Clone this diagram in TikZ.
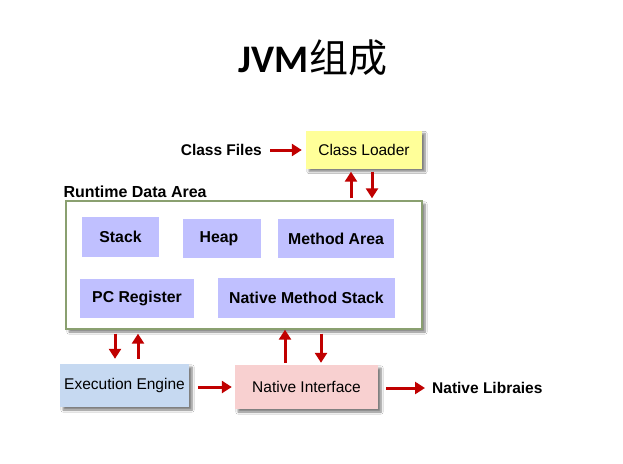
\documentclass[tikz,border=0pt]{standalone}
\usepackage{fontspec}
\setmainfont{Liberation Sans}
\newfontfamily\titlefont{Carlito}
\newfontfamily\cjk{Noto Sans CJK SC}
\usetikzlibrary{arrows.meta,shadows.blur}
\definecolor{loaderyellow}{HTML}{FFFF99}
\definecolor{arealilac}{HTML}{C0C0FF}
\definecolor{engineblue}{HTML}{C6D9F1}
\definecolor{interfacepink}{HTML}{F8D0D0}
\definecolor{areagreen}{HTML}{8AA070}
\definecolor{flowred}{HTML}{C00000}
\begin{document}
\begin{tikzpicture}[x=1pt, y=-1pt,
	  shadowed/.style={blur shadow={shadow xshift=3pt, shadow yshift=-3pt, shadow blur steps=6, shadow opacity=50}},
	  part/.style={fill=arealilac, inner sep=0pt, font=\fontsize{15.8}{18}\selectfont\bfseries},
	  unit/.style={shadowed, inner sep=0pt, font=\fontsize{15.5}{18}\selectfont},
	  plain/.style={inner sep=0pt, font=\fontsize{15.5}{18}\selectfont\bfseries},
	  flow/.style={draw=flowred, line width=3pt, -{Triangle[length=10pt, width=12pt]}}]
	  \useasboundingbox [fill=white] (0,0) rectangle (623,463);

	  \node (title) at (313,58) {\titlefont\fontsize{39}{44}\selectfont\bfseries JVM\cjk\mdseries 组成};

	  \node [unit, fill=loaderyellow, minimum width=116pt, minimum height=38pt] (cl) at (364,149.5) {Class Loader};
	  \node [plain, anchor=east] (cf) at (262,150) {Class Files};

	  \node [shadowed, draw=areagreen, line width=1.4pt, fill=white, minimum width=356pt, minimum height=128pt] (rda) at (244,265) {};
	  \node [plain, anchor=south west, font=\fontsize{16}{18}\selectfont\bfseries] (rdalabel) at ([xshift=-2pt, yshift=2pt]rda.north west) {Runtime Data Area};

	  \node [part, minimum width=77pt, minimum height=40pt] (stack) at (120.5,237) {Stack\hspace{10pt}};
	  \node [part, minimum width=78pt, minimum height=39pt] (heap) at (222,238.5) {\hspace{-6pt}Heap};
	  \node [part, minimum width=116pt, minimum height=39pt] (method) at (336,238.5) {Method Area};
	  \node [part, minimum width=114pt, minimum height=39pt] (pc) at (137,298.5) {PC Register};
	  \node [part, minimum width=177pt, minimum height=40pt] (nms) at (306.5,298) {Native Method Stack};

	  \node [unit, fill=engineblue, minimum width=129pt, minimum height=43pt] (ee) at (124.5,385.5) {Execution Engine};
	  \node [unit, fill=interfacepink, minimum width=143pt, minimum height=44pt] (ni) at (306.5,387) {Native Interface};
	  \node [plain, anchor=west] (nl) at (432,388) {Native Libraies};

	  % class files into the loader
	  \draw [flow, shorten <=8pt, shorten >=4pt] (cf.east) -- (cf.east -| cl.west);

	  % loader and runtime data area
	  \draw [flow, shorten >=3pt, shorten <=2pt] ([xshift=-13pt]cl.south |- rda.north) -- ([xshift=-13pt]cl.south);
	  \draw [flow, shorten <=3pt, shorten >=2pt] ([xshift=8pt]cl.south) -- ([xshift=8pt]cl.south |- rda.north);

	  % execution engine and runtime data area
	  \draw [flow, shorten <=4pt, shorten >=5pt] ([xshift=-9.5pt]ee.north |- rda.south) -- ([xshift=-9.5pt]ee.north);
	  \draw [flow, shorten <=5pt, shorten >=4pt] ([xshift=13.5pt]ee.north) -- ([xshift=13.5pt]ee.north |- rda.south);

	  % native interface and runtime data area
	  \draw [flow, shorten <=2pt] ([xshift=-21.5pt]ni.north) -- ([xshift=-21.5pt]ni.north |- rda.south);
	  \draw [flow, shorten <=4pt, shorten >=2pt] ([xshift=14.5pt]ni.north |- rda.south) -- ([xshift=14.5pt]ni.north);

	  \draw [flow, shorten <=9pt, shorten >=3pt] (ee.east |- ni.west) -- (ni.west);
	  \draw [flow, shorten <=8pt, shorten >=7pt] (ni.east |- nl.west) -- (nl.west);
	\end{tikzpicture}
\end{document}
